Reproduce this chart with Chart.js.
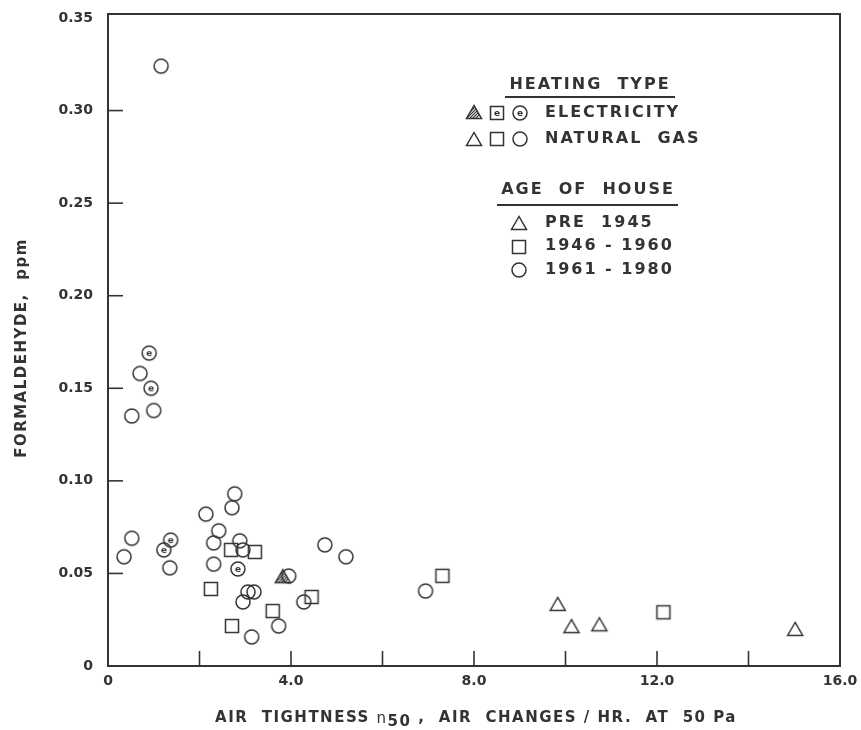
<!DOCTYPE html>
<html>
<head>
<meta charset="utf-8">
<script src="https://cdn.jsdelivr.net/npm/chart.js@4/dist/chart.umd.min.js"></script>
<style>
body { margin: 0; background: #fff; }
#wrap { width: 861px; height: 730px; position: relative; }
</style>
</head>
<body>
<div id="wrap"><canvas id="scatterChart"></canvas></div>
<script>
// air tightness n50 (x) and formaldehyde ppm (y)
const gasCircleX = [1.16, 0.70, 1.00, 0.52, 2.77, 2.71, 2.14, 2.42, 0.52, 0.35, 2.31, 2.88, 2.95, 1.35, 2.31, 3.95, 3.06, 3.19, 2.95, 3.73, 3.14, 4.28, 4.74, 5.20, 6.94];
const gasCircleY = [0.324, 0.158, 0.138, 0.135, 0.093, 0.0855, 0.082, 0.073, 0.069, 0.059, 0.0665, 0.0676, 0.0627, 0.053, 0.055, 0.0486, 0.040, 0.040, 0.0346, 0.0216, 0.0157, 0.0346, 0.0654, 0.059, 0.0405];

const elecCircleX = [0.90, 0.94, 1.37, 1.22, 2.84];
const elecCircleY = [0.169, 0.150, 0.068, 0.0627, 0.0524];

const gasSquareX = [2.69, 3.21, 2.25, 3.60, 2.71, 4.45, 7.31, 12.14];
const gasSquareY = [0.0627, 0.0616, 0.0416, 0.0297, 0.0216, 0.0373, 0.0487, 0.029];

const gasTriangleX = [9.83, 10.13, 10.74, 15.02];
const gasTriangleY = [0.033, 0.021, 0.022, 0.0195];

const elecTriangleX = [3.82];
const elecTriangleY = [0.048];

const xTicks = [0, 4, 8, 12, 16];
const yTicks = [0, 0.05, 0.10, 0.15, 0.20, 0.25, 0.30, 0.35];

const INK = '#333333';
const FONT = '"DejaVu Sans", sans-serif';

function toPoints(xs, ys) {
    return xs.map((x, i) => ({ x: x, y: ys[i] }));
}

function drawShape(g, shape, elec, cx, cy) {
    g.save();
    g.strokeStyle = INK;
    g.fillStyle = INK;
    g.lineWidth = 1.5;
    g.beginPath();
    if (shape === 'circle') {
        g.arc(cx, cy, 7, 0, Math.PI * 2);
    } else if (shape === 'square') {
        g.rect(cx - 6.5, cy - 6.5, 13, 13);
    } else {
        g.moveTo(cx, cy - 7.5);
        g.lineTo(cx - 7.5, cy + 5.5);
        g.lineTo(cx + 7.5, cy + 5.5);
        g.closePath();
    }
    g.stroke();
    if (elec) {
        if (shape === 'triangle') {
            g.clip();
            g.lineWidth = 1.2;
            for (let k = -8; k <= 8; k += 3) {
                g.beginPath();
                g.moveTo(cx + k - 8, cy + 8);
                g.lineTo(cx + k + 8, cy - 8);
                g.stroke();
            }
        } else {
            g.font = 'bold 9px ' + FONT;
            g.textAlign = 'center';
            g.textBaseline = 'middle';
            g.fillText('e', cx, cy + 0.5);
        }
    }
    g.restore();
}

function makeMarker(shape, elec) {
    const c = document.createElement('canvas');
    c.width = 20;
    c.height = 20;
    drawShape(c.getContext('2d'), shape, elec, 10, 10);
    return c;
}

function spacedText(ctx, text, x, y, spacing, align) {
    ctx.letterSpacing = spacing + 'px';
    ctx.textAlign = align || 'left';
    ctx.fillText(text, x, y);
    ctx.letterSpacing = '0px';
}

const framePlugin = {
    id: 'frame',
    afterDraw(chart) {
        const ctx = chart.ctx;
        const a = chart.chartArea;
        const xs = chart.scales.x;
        const ys = chart.scales.y;
        ctx.save();
        ctx.strokeStyle = INK;
        ctx.lineWidth = 2;
        // the drawn frame sits a few px above the 0.35 line, as in the original
        ctx.strokeRect(a.left, a.top - 4, a.right - a.left, a.bottom - a.top + 4);

        // inward tick marks
        ctx.lineWidth = 1.6;
        for (let v = 2; v < 16; v += 2) {
            const px = xs.getPixelForValue(v);
            ctx.beginPath();
            ctx.moveTo(px, a.bottom);
            ctx.lineTo(px, a.bottom - 15);
            ctx.stroke();
        }
        for (let v = 0.05; v < 0.34; v += 0.05) {
            const py = ys.getPixelForValue(v);
            ctx.beginPath();
            ctx.moveTo(a.left, py);
            ctx.lineTo(a.left + 15, py);
            ctx.stroke();
        }

        // axis titles
        ctx.fillStyle = INK;
        ctx.textBaseline = 'middle';
        ctx.letterSpacing = '1.5px';
        const part1 = 'AIR  TIGHTNESS ';
        const sub = '50';
        const part2 = ' ,  AIR  CHANGES / HR.  AT  50 Pa';
        ctx.font = 'bold 15px ' + FONT;
        const w1 = ctx.measureText(part1).width;
        ctx.font = '15px ' + FONT;
        const wn = ctx.measureText('n').width;
        ctx.font = 'bold 15px ' + FONT;
        const ws = ctx.measureText(sub).width;
        const w2 = ctx.measureText(part2).width;
        let tx = 476 - (w1 + wn + ws + w2) / 2;
        const ty = 718;
        ctx.textAlign = 'left';
        ctx.fillText(part1, tx, ty); tx += w1;
        ctx.font = '15px ' + FONT;
        ctx.fillText('n', tx, ty + 1); tx += wn;
        ctx.font = 'bold 15px ' + FONT;
        ctx.fillText(sub, tx, ty + 4); tx += ws;
        ctx.fillText(part2, tx, ty);
        ctx.letterSpacing = '0px';

        ctx.save();
        ctx.translate(22, 348);
        ctx.rotate(-Math.PI / 2);
        spacedText(ctx, 'FORMALDEHYDE,  ppm', 0, 0, 1.5, 'center');
        ctx.restore();

        // legend
        ctx.font = 'bold 16px ' + FONT;
        ctx.textBaseline = 'middle';
        spacedText(ctx, 'HEATING  TYPE', 590, 85, 2, 'center');
        spacedText(ctx, 'AGE  OF  HOUSE', 588, 190, 2, 'center');
        ctx.lineWidth = 1.8;
        ctx.beginPath();
        ctx.moveTo(505, 97); ctx.lineTo(675, 97);
        ctx.moveTo(497, 205); ctx.lineTo(678, 205);
        ctx.stroke();

        drawShape(ctx, 'triangle', true, 474, 113);
        drawShape(ctx, 'square', true, 497, 113);
        drawShape(ctx, 'circle', true, 520, 113);
        spacedText(ctx, 'ELECTRICITY', 545, 113, 2);
        drawShape(ctx, 'triangle', false, 474, 140);
        drawShape(ctx, 'square', false, 497, 139);
        drawShape(ctx, 'circle', false, 520, 139);
        spacedText(ctx, 'NATURAL  GAS', 545, 139, 2);

        drawShape(ctx, 'triangle', false, 519, 224);
        spacedText(ctx, 'PRE  1945', 545, 223, 2);
        drawShape(ctx, 'square', false, 519, 247);
        spacedText(ctx, '1946 - 1960', 545, 246, 2);
        drawShape(ctx, 'circle', false, 519, 270);
        spacedText(ctx, '1961 - 1980', 545, 270, 2);
        ctx.restore();
    }
};

function ui_scatter() {
    const ctx = document.getElementById('scatterChart');
    const data = {
        datasets: [
            { label: 'Natural gas, 1961-1980', data: toPoints(gasCircleX, gasCircleY), pointStyle: makeMarker('circle', false) },
            { label: 'Electricity, 1961-1980', data: toPoints(elecCircleX, elecCircleY), pointStyle: makeMarker('circle', true) },
            { label: 'Natural gas, 1946-1960', data: toPoints(gasSquareX, gasSquareY), pointStyle: makeMarker('square', false) },
            { label: 'Natural gas, pre 1945', data: toPoints(gasTriangleX, gasTriangleY), pointStyle: makeMarker('triangle', false) },
            { label: 'Electricity, pre 1945', data: toPoints(elecTriangleX, elecTriangleY), pointStyle: makeMarker('triangle', true) }
        ]
    };
    const option = {
        responsive: true,
        maintainAspectRatio: false,
        animation: false,
        layout: { padding: { top: 18, right: 21, left: 0, bottom: 0 } },
        plugins: { legend: { display: false }, tooltip: { enabled: false } },
        scales: {
            x: {
                type: 'linear',
                min: 0,
                max: 16,
                afterFit: (s) => { s.height = 64; s.paddingLeft = 0; s.paddingRight = 0; },
                afterBuildTicks: (s) => { s.ticks = xTicks.map(v => ({ value: v })); },
                grid: { display: false, drawTicks: false },
                border: { display: false },
                ticks: {
                    padding: 7,
                    color: INK,
                    font: { family: FONT, size: 14, weight: 'bold' },
                    maxRotation: 0,
                    callback: (v) => v === 0 ? '0' : v.toFixed(1)
                }
            },
            y: {
                type: 'linear',
                min: 0,
                max: 0.35,
                afterFit: (s) => { s.width = 108; s.paddingTop = 0; s.paddingBottom = 0; },
                afterBuildTicks: (s) => { s.ticks = yTicks.map(v => ({ value: v })); },
                grid: { display: false, drawTicks: false },
                border: { display: false },
                ticks: {
                    padding: 15,
                    color: INK,
                    font: { family: FONT, size: 14, weight: 'bold' },
                    callback: (v) => v === 0 ? '0' : v.toFixed(2)
                }
            }
        }
    };
    new Chart(ctx, {
        type: 'scatter',
        data: data,
        options: option,
        plugins: [framePlugin]
    });
}
ui_scatter();
</script>
</body>
</html>
